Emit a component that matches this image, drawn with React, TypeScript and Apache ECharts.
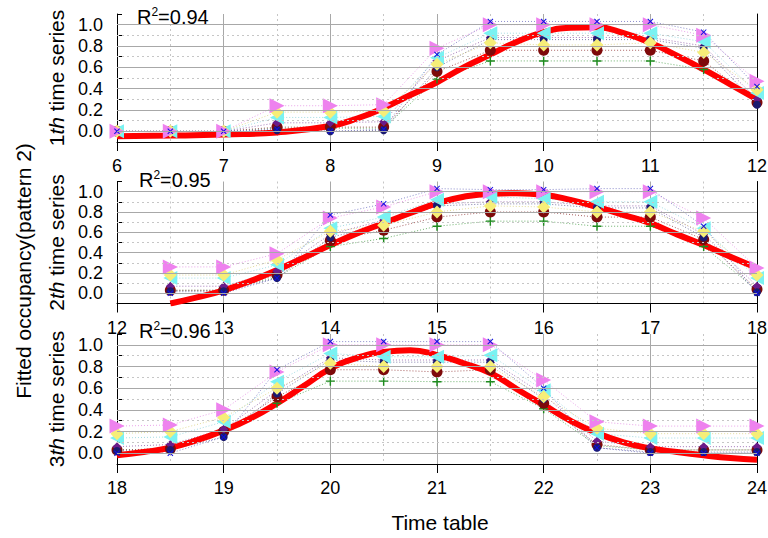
import React, { useEffect, useRef } from 'react';
import * as echarts from 'echarts';

// Half-hour sampling times for the three panels
const HOURS_A = [6, 6.5, 7, 7.5, 8, 8.5, 9, 9.5, 10, 10.5, 11, 11.5, 12];
const HOURS_B = [12.5, 13, 13.5, 14, 14.5, 15, 15.5, 16, 16.5, 17, 17.5, 18];
const HOURS_C = [18, 18.5, 19, 19.5, 20, 20.5, 21, 21.5, 22, 22.5, 23, 23.5, 24];
const PANEL_HOURS = [HOURS_A, HOURS_B, HOURS_C];
const X_RANGES = [[6, 12], [12, 18], [18, 24]];
const PANEL_INDEX = ['1', '2', '3'];
const R2_VALUES = ['0.94', '0.95', '0.96'];
const Y_MAJOR = [0, 0.2, 0.4, 0.6, 0.8, 1.0];
const Y_MINOR = [0.1, 0.3, 0.5, 0.7, 0.9];

// Observed occupancy per series, one array per panel
const violetObs = [
  [0.0, 0.0, 0.0, 0.24, 0.24, 0.25, 0.78, 1.0, 1.0, 1.0, 1.0, 0.9, 0.47],
  [0.26, 0.26, 0.39, 0.74, 0.85, 1.0, 1.0, 1.0, 1.0, 1.0, 0.74, 0.25],
  [0.25, 0.26, 0.4, 0.75, 1.0, 1.0, 1.0, 1.0, 0.675, 0.29, 0.25, 0.25, 0.25],
];
const blueObs = [
  [0.0, 0.0, 0.0, 0.02, 0.0, 0.02, 0.72, 1.03, 1.03, 1.03, 1.03, 0.93, 0.42],
  [0.0, 0.0, 0.15, 0.77, 0.88, 1.03, 1.02, 1.02, 1.03, 1.03, 0.66, 0.0],
  [0.0, 0.0, 0.15, 0.77, 1.03, 1.03, 1.03, 1.03, 0.6, 0.05, 0.0, 0.0, 0.0],
];
const cyanObs = [
  [0.0, 0.0, 0.0, 0.13, 0.13, 0.14, 0.69, 0.92, 0.92, 0.92, 0.92, 0.84, 0.36],
  [0.15, 0.15, 0.28, 0.64, 0.75, 0.92, 0.95, 0.93, 0.9, 0.9, 0.64, 0.15],
  [0.14, 0.15, 0.29, 0.66, 0.92, 0.89, 0.89, 0.905, 0.58, 0.18, 0.14, 0.14, 0.14],
];
const yellowObs = [
  [0.0, 0.0, 0.0, 0.18, 0.18, 0.19, 0.63, 0.83, 0.81, 0.81, 0.83, 0.74, 0.39],
  [0.18, 0.18, 0.33, 0.61, 0.67, 0.8, 0.86, 0.85, 0.8, 0.8, 0.61, 0.18],
  [0.18, 0.2, 0.33, 0.6, 0.83, 0.8, 0.8, 0.8, 0.52, 0.23, 0.18, 0.18, 0.18],
];
const maroonObs = [
  [0.0, 0.0, 0.0, 0.04, 0.04, 0.04, 0.56, 0.76, 0.76, 0.76, 0.76, 0.66, 0.27],
  [0.03, 0.03, 0.18, 0.52, 0.62, 0.75, 0.8, 0.8, 0.75, 0.75, 0.53, 0.04],
  [0.03, 0.04, 0.2, 0.52, 0.77, 0.77, 0.75, 0.77, 0.46, 0.08, 0.03, 0.03, 0.03],
];
const greenObs = [
  [0.0, 0.0, 0.0, 0.03, 0.03, 0.03, 0.49, 0.66, 0.66, 0.66, 0.66, 0.58, 0.27],
  [0.03, 0.03, 0.16, 0.46, 0.54, 0.66, 0.71, 0.71, 0.66, 0.66, 0.46, 0.03],
  [0.03, 0.04, 0.18, 0.46, 0.665, 0.665, 0.66, 0.66, 0.41, 0.07, 0.03, 0.03, 0.03],
];
const purpleObs = [
  [0.0, 0.0, 0.0, 0.08, 0.08, 0.09, 0.66, 0.88, 0.88, 0.88, 0.88, 0.8, 0.3],
  [0.07, 0.07, 0.22, 0.58, 0.72, 0.88, 0.9, 0.9, 0.86, 0.86, 0.58, 0.07],
  [0.06, 0.08, 0.22, 0.58, 0.88, 0.86, 0.86, 0.86, 0.54, 0.11, 0.06, 0.06, 0.06],
];
const navyObs = [
  [0.0, 0.0, 0.0, 0.01, 0.0, 0.01, 0.6, 0.86, 0.86, 0.86, 0.86, 0.78, 0.25],
  [0.02, 0.02, 0.15, 0.55, 0.68, 0.86, 0.88, 0.88, 0.84, 0.84, 0.55, 0.01],
  [0.02, 0.03, 0.15, 0.55, 0.86, 0.84, 0.84, 0.84, 0.5, 0.05, 0.01, 0.01, 0.01],
];

// Fitted curve, read at quarter-hour steps
const FIT_X_A = [6, 6.5, 7, 7.5, 8, 8.25, 8.5, 8.75, 9, 9.25, 9.5, 9.75, 10, 10.25, 10.5, 10.75, 11, 11.25, 11.5, 11.75, 12];
const FIT_Y_A = [-0.045, -0.04, -0.03, -0.01, 0.05, 0.12, 0.22, 0.34, 0.46, 0.6, 0.72, 0.84, 0.93, 0.97, 0.975, 0.92, 0.83, 0.71, 0.58, 0.44, 0.3];
const FIT_X_B = [12.5, 12.75, 13, 13.25, 13.5, 13.75, 14, 14.25, 14.5, 14.75, 15, 15.25, 15.5, 15.75, 16, 16.25, 16.5, 16.75, 17, 17.25, 17.5, 17.75, 18];
const FIT_Y_B = [-0.1, -0.04, 0.03, 0.12, 0.23, 0.35, 0.475, 0.59, 0.69, 0.79, 0.885, 0.95, 0.98, 0.985, 0.97, 0.92, 0.85, 0.77, 0.69, 0.58, 0.475, 0.36, 0.25];
const FIT_X_C = [18, 18.25, 18.5, 18.75, 19, 19.25, 19.5, 19.75, 20, 20.25, 20.5, 20.75, 21, 21.25, 21.5, 21.75, 22, 22.25, 22.5, 22.75, 23, 23.25, 23.5, 23.75, 24];
const FIT_Y_C = [-0.02, 0.01, 0.05, 0.12, 0.21, 0.32, 0.46, 0.62, 0.78, 0.88, 0.935, 0.95, 0.905, 0.83, 0.74, 0.59, 0.445, 0.3, 0.185, 0.1, 0.045, 0.01, -0.02, -0.045, -0.06];
const FIT_X = [FIT_X_A, FIT_X_B, FIT_X_C];
const FIT_Y = [FIT_Y_A, FIT_Y_B, FIT_Y_C];

const FONT = "'Liberation Sans', Arial, sans-serif";
const PLUS = 'path://M4.2,0H5.8V4.2H10V5.8H5.8V10H4.2V5.8H0V4.2H4.2Z';
const CROSS = 'path://M0,1.2L1.2,0L5,3.8L8.8,0L10,1.2L6.2,5L10,8.8L8.8,10L5,6.2L1.2,10L0,8.8L3.8,5Z';

// Marker styling, in drawing order (later ones sit on top)
const MARKERS = [
  { values: greenObs, color: '#1E8B1E', symbol: PLUS, size: 9, rotate: 0, line: '#5DAA5D' },
  { values: maroonObs, color: '#7E0A0A', symbol: 'circle', size: 11, rotate: 0, line: '#A05050' },
  { values: purpleObs, color: '#6A1B8A', symbol: 'diamond', size: 9, rotate: 0, line: '#9A6AB0' },
  { values: navyObs, color: '#1A1A70', symbol: 'circle', size: 8, rotate: 0, line: '#7070A0' },
  { values: cyanObs, color: '#7AF2F2', symbol: 'triangle', size: 14, rotate: 90, line: '#9AD8E0' },
  { values: yellowObs, color: '#F6EE78', symbol: 'diamond', size: 13, rotate: 0, line: '#E0D890' },
  { values: violetObs, color: '#EE82EE', symbol: 'triangle', size: 15, rotate: -90, line: '#E89AE8' },
  { values: blueObs, color: '#1010E0', symbol: CROSS, size: 6, rotate: 0, line: '#8080C8' },
];

const GRIDS = [
  { top: 14, height: 128 },
  { top: 181.5, height: 122 },
  { top: 334, height: 130 },
];

function yLabel(v: number) {
  const k = Math.round(v * 10);
  return k >= 0 && k <= 10 && k % 2 === 0 ? (k / 10).toFixed(1) : '';
}

function buildOption() {
  const grid = GRIDS.map((g) => ({ left: 117, width: 640, top: g.top, height: g.height, outerBoundsMode: 'none' }));
  const xAxis = X_RANGES.map((r, i) => ({
    gridIndex: i,
    type: 'value',
    min: r[0],
    max: r[1],
    interval: 1,
    axisLine: { onZero: false, lineStyle: { color: '#000', width: 1 } },
    axisTick: { length: 9, lineStyle: { color: '#000' } },
    axisLabel: { fontSize: 18, color: '#000', margin: 15, fontFamily: FONT },
    splitLine: { show: true, lineStyle: { color: '#A8A8A8', width: 1 } },
    minorTick: { show: false, splitNumber: 2 },
    minorSplitLine: { show: true, lineStyle: { color: '#C6C6C6', type: [2, 3], width: 1 } },
  }));
  const yAxis: any[] = [];
  GRIDS.forEach((_, i) => {
    yAxis.push({
      gridIndex: i,
      type: 'value',
      min: -0.1,
      max: 1.1,
      interval: 0.1,
      axisLine: { show: true, onZero: false, lineStyle: { color: '#000', width: 1 } },
      axisTick: { show: true, inside: true, length: 5, lineStyle: { color: '#000' } },
      axisLabel: { formatter: yLabel, fontSize: 18, color: '#000', margin: 14, fontFamily: FONT },
      splitLine: { show: false },
      name: `{n|${PANEL_INDEX[i]}}{it|th}{n| time series}`,
      nameLocation: 'middle',
      nameRotate: 90,
      nameGap: 47,
      nameTextStyle: {
        fontFamily: FONT,
        fontSize: 21,
        color: '#000',
        rich: {
          n: { fontFamily: FONT, fontSize: 21, color: '#000' },
          it: { fontFamily: FONT, fontSize: 21, color: '#000', fontStyle: 'italic' },
        },
      },
    });
    yAxis.push({
      gridIndex: i,
      type: 'value',
      position: 'right',
      min: -0.1,
      max: 1.1,
      axisLine: { show: true, onZero: false, lineStyle: { color: '#000', width: 1 } },
      axisTick: { show: false },
      axisLabel: { show: false },
      splitLine: { show: false },
    });
  });

  const series: any[] = [];
  PANEL_HOURS.forEach((hours, p) => {
    // horizontal grid lines
    series.push({
      type: 'line',
      xAxisIndex: p,
      yAxisIndex: p * 2,
      data: [],
      silent: true,
      z: 1,
      markLine: {
        silent: true,
        symbol: ['none', 'none'],
        label: { show: false },
        data: [
          ...Y_MAJOR.map((v) => ({ yAxis: v, lineStyle: { color: '#A8A8A8', type: 'solid', width: 1 } })),
          ...Y_MINOR.map((v) => ({ yAxis: v, lineStyle: { color: '#C6C6C6', type: [2, 3], width: 1 } })),
        ],
      },
    });
    // dotted connectors
    MARKERS.forEach((m) => {
      series.push({
        type: 'line',
        xAxisIndex: p,
        yAxisIndex: p * 2,
        data: hours.map((h, k) => [h, m.values[p][k]]),
        symbol: 'none',
        showSymbol: false,
        silent: true,
        z: 2,
        lineStyle: { color: m.line, width: 1, type: [1, 2], opacity: 0.9 },
      });
    });
    // fitted curve
    series.push({
      type: 'line',
      xAxisIndex: p,
      yAxisIndex: p * 2,
      data: FIT_X[p].map((x, k) => [x, FIT_Y[p][k]]),
      smooth: true,
      symbol: 'none',
      showSymbol: false,
      silent: true,
      clip: true,
      z: 3,
      lineStyle: { color: '#FF0000', width: 6 },
    });
    // observation markers
    MARKERS.forEach((m) => {
      series.push({
        type: 'scatter',
        xAxisIndex: p,
        yAxisIndex: p * 2,
        data: hours.map((h, k) => [h, m.values[p][k]]),
        symbol: m.symbol,
        symbolSize: m.size,
        symbolRotate: m.rotate,
        silent: true,
        z: 4,
        itemStyle: { color: m.color, opacity: 1 },
      });
    });
  });

  const r2Pos = [
    { x: 137, y: 17 },
    { x: 139, y: 180 },
    { x: 139, y: 331 },
  ];
  const graphic: any[] = R2_VALUES.map((v, i) => ({
    type: 'text',
    x: r2Pos[i].x,
    y: r2Pos[i].y,
    silent: true,
    style: {
      text: `{a|R}{b|2}{a|=${v}}`,
      verticalAlign: 'middle',
      rich: {
        a: { fontFamily: FONT, fontSize: 20, fill: '#000', lineHeight: 22 },
        b: { fontFamily: FONT, fontSize: 12, fill: '#000', lineHeight: 22, verticalAlign: 'top' },
      },
    },
  }));
  graphic.push({
    type: 'text',
    x: 23,
    y: 271,
    rotation: Math.PI / 2,
    silent: true,
    style: {
      text: 'Fitted occupancy(pattern 2)',
      fontFamily: FONT,
      fontSize: 21,
      fill: '#000',
      align: 'center',
      verticalAlign: 'middle',
    },
  });
  graphic.push({
    type: 'text',
    x: 440,
    y: 522,
    silent: true,
    style: {
      text: 'Time table',
      fontFamily: FONT,
      fontSize: 21,
      fill: '#000',
      align: 'center',
      verticalAlign: 'middle',
    },
  });

  return {
    animation: false,
    backgroundColor: '#FFFFFF',
    textStyle: { fontFamily: FONT },
    grid,
    xAxis,
    yAxis,
    series,
    graphic,
  };
}

export default function App() {
  const ref = useRef<HTMLDivElement>(null);
  useEffect(() => {
    document.body.style.margin = '0';
    if (!ref.current) return;
    const chart = echarts.init(ref.current, undefined, { renderer: 'svg' });
    chart.setOption(buildOption() as any);
    return () => chart.dispose();
  }, []);
  return <div ref={ref} style={{ width: 768, height: 538 }} />;
}
